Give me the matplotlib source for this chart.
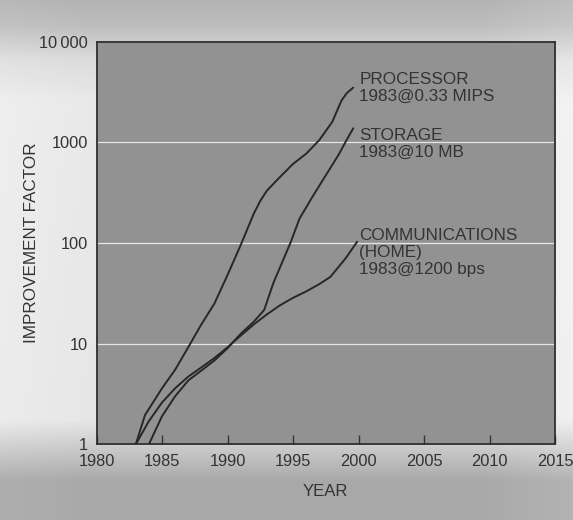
import numpy as np
import matplotlib
matplotlib.use("Agg")
import matplotlib.pyplot as plt

plt.rcParams['font.family'] = ['Liberation Sans', 'DejaVu Sans']

# ---- data ----
proc_years = [1983, 1983.7, 1985, 1986, 1987, 1988, 1989, 1990, 1991, 1992,
              1992.5, 1993, 1993.8, 1995, 1996, 1997, 1998, 1998.7, 1999.1, 1999.6]
proc_vals = [1, 1.95, 3.6, 5.5, 9.2, 15.5, 25, 48, 95, 195,
             262, 330, 425, 610, 770, 1050, 1600, 2600, 3080, 3500]

stor_years = [1984, 1985, 1986, 1987, 1988, 1989, 1990, 1991, 1992, 1992.8,
              1993.5, 1994.8, 1995.5, 1996.5, 1997.5, 1998.5, 1999.1, 1999.6]
stor_vals = [1, 1.9, 3.0, 4.3, 5.4, 6.8, 9.0, 12.5, 16.5, 21.6,
             40, 100, 175, 290, 470, 760, 1060, 1380]

comm_years = [1983, 1984, 1985, 1986, 1987, 1988, 1989, 1990, 1991, 1992,
              1993, 1994, 1995, 1996, 1997, 1997.85, 1999, 1999.9]
comm_vals = [1, 1.7, 2.6, 3.6, 4.7, 5.8, 7.2, 9.2, 12, 15.5,
             19.5, 24, 28.5, 33, 39, 46, 70, 103]

labels = ["PROCESSOR\n1983@0.33 MIPS",
          "STORAGE\n1983@10 MB",
          "COMMUNICATIONS\n(HOME)\n1983@1200 bps"]
label_pos = [(2000.05, 5030), (2000.05, 1390), (2000.05, 141)]

x_ticks = [1980, 1985, 1990, 1995, 2000, 2005, 2010, 2015]
y_ticks = [1, 10, 100, 1000, 10000]
y_ticklabels = ["1", "10", "100", "1000", "10\u2009000"]

W, H = 573, 520
fig = plt.figure(figsize=(W / 100, H / 100), dpi=100)

# background gradient (scanned paper look)
bg = fig.add_axes([0, 0, 1, 1], zorder=-10)
rows = np.arange(H)
shade = np.interp(rows, [0, 25, 60, 100, 420, 455, 480, 520],
                  [0.70, 0.74, 0.86, 0.91, 0.90, 0.76, 0.66, 0.66])
cols = np.arange(W)
side = np.interp(cols, [0, 90, 480, 573], [0.02, 0.0, 0.0, 0.04])
img = np.clip(shade[:, None] + side[None, :], 0, 1)
bg.imshow(img, cmap='gray', vmin=0, vmax=1, aspect='auto',
          extent=[0, W, H, 0], interpolation='bilinear')
bg.set_axis_off()

ax = fig.add_axes([96.5 / W, 1 - 444.3 / H, (555 - 96.5) / W, (444.3 - 41.7) / H])
ax.set_facecolor('#929292')
ax.set_yscale('log')
ax.set_xlim(1980, 2015)
ax.set_ylim(1, 10000)

line_kw = dict(color='#272727', lw=1.4, solid_capstyle='round', zorder=3)
ax.plot(proc_years, proc_vals, **line_kw)
ax.plot(stor_years, stor_vals, **line_kw)
ax.plot(comm_years, comm_vals, **line_kw)

for txt, (x, y) in zip(labels, label_pos):
    ax.text(x, y, txt, ha='left', va='top', fontsize=12.3, color='#333333',
            linespacing=1.15, zorder=4)

for v in [10, 100, 1000]:
    ax.axhline(v, color='#e6e6e6', lw=0.9, zorder=1)

ax.set_xticks(x_ticks)
ax.set_xticklabels([str(t) for t in x_ticks])
ax.set_yticks(y_ticks)
ax.set_yticklabels(y_ticklabels)
ax.yaxis.set_minor_locator(matplotlib.ticker.NullLocator())
ax.tick_params(axis='x', direction='in', length=6.5, width=1.0, color='#333333',
               labelsize=11.8, labelcolor='#333333', pad=7)
ax.tick_params(axis='y', length=0, labelsize=11.8, labelcolor='#333333', pad=6)
for s in ax.spines.values():
    s.set_color('#2f2f2f')
    s.set_linewidth(1.3)

fig.text(325.5 / W, 1 - 491 / H, "YEAR", ha='center', va='center',
         fontsize=12, color='#333333')
fig.text(32 / W, 1 - 243 / H, "IMPROVEMENT FACTOR", ha='center', va='center',
         rotation=90, fontsize=12.3, color='#333333')

fig.savefig("out.png", dpi=100)
